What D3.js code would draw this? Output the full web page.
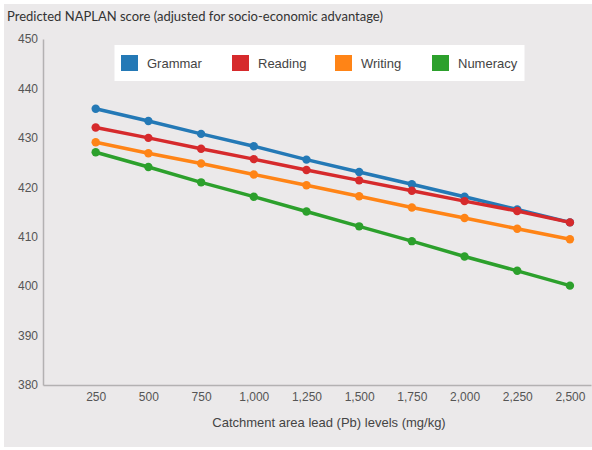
<!DOCTYPE html>
<html>
<head>
<meta charset="utf-8">
<script src="https://cdn.jsdelivr.net/npm/d3@7"></script>
<style>
  body { margin: 0; background: #fff; }
  svg { display: block; }
</style>
</head>
<body>
<svg id="chart"></svg>
<script>
const leadLevels = [250, 500, 750, 1000, 1250, 1500, 1750, 2000, 2250, 2500];
const grammar  = [435.9, 433.4, 430.8, 428.3, 425.6, 423.1, 420.6, 418.1, 415.5, 412.9];
const reading  = [432.1, 430.0, 427.8, 425.7, 423.5, 421.4, 419.3, 417.2, 415.2, 412.9];
const writing  = [429.1, 426.9, 424.8, 422.6, 420.4, 418.2, 415.9, 413.8, 411.6, 409.5];
const numeracy = [427.1, 424.1, 421.0, 418.1, 415.1, 412.1, 409.1, 406.0, 403.1, 400.1];
const yTicks = [380, 390, 400, 410, 420, 430, 440, 450];

const seriesNames = ['Grammar', 'Reading', 'Writing', 'Numeracy'];
const seriesColors = ['#2479b6', '#d62a2c', '#ff8416', '#2ca02c'];
const seriesValues = [grammar, reading, writing, numeracy];

const width = 592;
const height = 450;

const svg = d3.select('#chart')
  .attr('width', width)
  .attr('height', height);

// grey panel
svg.append('rect')
  .attr('x', 4).attr('y', 4)
  .attr('width', width - 4).attr('height', 443)
  .attr('fill', '#ebe9ea');

const x = d3.scaleLinear().domain([0, 2600]).range([43, 591]);
const y = d3.scaleLinear().domain([380, 450]).range([385, 39]);

// title
svg.append('text')
  .attr('x', 7).attr('y', 21)
  .attr('font-family', 'Lato, sans-serif')
  .attr('font-size', '13px')
  .attr('fill', '#333')
  .text('Predicted NAPLAN score (adjusted for socio-economic advantage)');

// axes
const yAxis = svg.append('g')
  .attr('transform', `translate(${x(0)},0)`)
  .call(d3.axisLeft(y).tickValues(yTicks).tickSize(0).tickSizeOuter(0).tickPadding(5));

const xAxis = svg.append('g')
  .attr('transform', `translate(0,${y(380)})`)
  .call(d3.axisBottom(x).tickValues(leadLevels).tickFormat(d3.format(',')).tickSize(0).tickSizeOuter(0).tickPadding(7));

[yAxis, xAxis].forEach(a => {
  a.select('.domain').attr('stroke', '#b3b1b2').attr('stroke-width', 1.5);
  a.selectAll('text')
    .attr('font-family', '"Liberation Sans", Arial, sans-serif')
    .attr('font-size', '12px')
    .attr('fill', '#555');
});

svg.append('text')
  .attr('x', 329).attr('y', 427)
  .attr('text-anchor', 'middle')
  .attr('font-family', '"Liberation Sans", Arial, sans-serif')
  .attr('font-size', '13px')
  .attr('fill', '#444')
  .text('Catchment area lead (Pb) levels (mg/kg)');

// lines
const line = d3.line()
  .x((_, i) => x(leadLevels[i]))
  .y(d => y(d));

seriesValues.forEach((vals, s) => {
  const g = svg.append('g');
  g.append('path')
    .datum(vals)
    .attr('fill', 'none')
    .attr('stroke', seriesColors[s])
    .attr('stroke-width', 3.5)
    .attr('stroke-linejoin', 'round')
    .attr('d', line);
  g.selectAll('circle')
    .data(vals)
    .join('circle')
    .attr('cx', (_, i) => x(leadLevels[i]))
    .attr('cy', d => y(d))
    .attr('r', 4.2)
    .attr('fill', seriesColors[s]);
});

// legend
const legend = svg.append('g');
legend.append('rect')
  .attr('x', 114.5).attr('y', 45)
  .attr('width', 410).attr('height', 36)
  .attr('fill', '#fff');

const legendX = [121, 232, 335, 432];
seriesNames.forEach((name, i) => {
  legend.append('rect')
    .attr('x', legendX[i]).attr('y', 55)
    .attr('width', 17).attr('height', 16)
    .attr('fill', seriesColors[i]);
  legend.append('text')
    .attr('x', legendX[i] + 26).attr('y', 68)
    .attr('font-family', '"Liberation Sans", Arial, sans-serif')
    .attr('font-size', '13px')
    .attr('fill', '#444')
    .text(name);
});
</script>
</body>
</html>
